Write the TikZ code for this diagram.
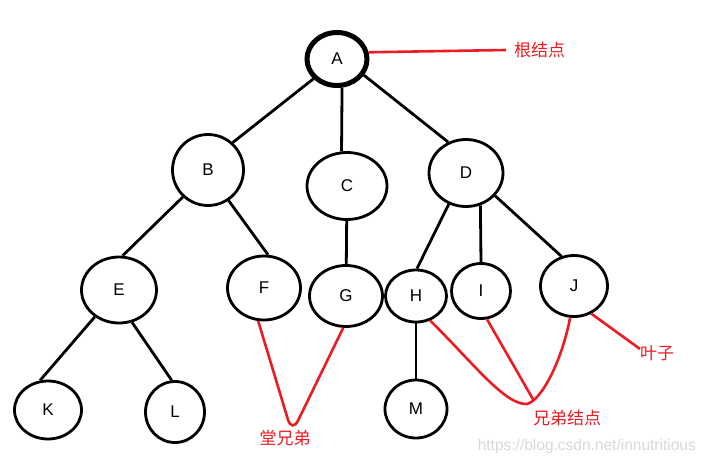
\documentclass[tikz,border=0pt]{standalone}
\usepackage{fontspec}
\setmainfont{Liberation Sans}
\newfontfamily\cjk{Noto Sans CJK SC}
\usetikzlibrary{shapes.geometric}
\definecolor{pred}{RGB}{237,28,36}
\begin{document}
\begin{tikzpicture}[x=1pt,y=-1pt,
  tn/.style={ellipse,draw,line width=2.8pt,inner sep=0pt,font=\fontsize{17}{17}\selectfont},
  el/.style={line width=2.8pt},
  rl/.style={draw=pred,line width=2.6pt},
  lbl/.style={text=pred,font=\cjk\fontsize{17}{17}\selectfont,inner sep=0pt}]
\useasboundingbox[fill=white] (0,0) rectangle (705,463);
% nodes
\node[tn,line width=5pt,minimum width=60pt,minimum height=53pt] (A) at (337,59) {A};
\node[tn,minimum width=71pt,minimum height=71pt] (B) at (208,170) {B};
\node[tn,minimum width=80pt,minimum height=67pt] (C) at (347,186) {C};
\node[tn,minimum width=74pt,minimum height=67pt] (D) at (466,173) {D};
\node[tn,minimum width=75pt,minimum height=66pt] (E) at (119,290) {E};
\node[tn,minimum width=73pt,minimum height=64pt] (F) at (264,288) {F};
\node[tn,minimum width=73pt,minimum height=61pt] (G) at (346,296) {G};
\node[tn,minimum width=61pt,minimum height=52pt] (H) at (416,296) {H};
\node[tn,minimum width=59pt,minimum height=55pt] (I) at (481,291) {I};
\node[tn,minimum width=67pt,minimum height=61pt] (J) at (574,286) {J};
\node[tn,minimum width=67pt,minimum height=58pt] (K) at (48,410) {K};
\node[tn,minimum width=59pt,minimum height=61pt] (L) at (175,412) {L};
\node[tn,minimum width=62pt,minimum height=58pt] (M) at (416,409) {M};
% tree edges
\draw[el] (A.-140) -- (B.48);
\draw[el] (A.-80) -- (C.99);
\draw[el] (A.-31) -- (D.120);
\draw[el] (B.-133) -- (E.84);
\draw[el] (B.-56) -- (F.83);
\draw[el] (C) -- (G);
\draw[el] (D.-119) -- (H.88);
\draw[el] (D.-66) -- (I.north);
\draw[el] (D.-38) -- (J.113);
\draw[el] (E.-132) -- (K.105);
\draw[el] (E.-68) -- (L.96);
\draw[el] (H) -- (M);
% labels
\node[lbl,anchor=west] (rootl) at (514,50) {根结点};
\node[lbl] (cousin) at (285,438) {堂兄弟};
\node[lbl] (sibl) at (567,418) {兄弟结点};
\node[lbl,anchor=west] (leaf) at (640,353) {叶子};
\node[text=black!15,font=\fontsize{15.5}{15.5}\selectfont,anchor=east,inner sep=0pt] (wm) at (696,446) {https://blog.csdn.net/innutritious};
% red annotations
\draw[rl] (A.12) -- ([xshift=-8pt]rootl.west);
\draw[rl,rounded corners=14pt] (F.-100) -- (292,433) -- (G.-95);
\coordinate (ibot) at (534,401);
\draw[rl] (H.-60) .. controls (475,365) and (505,405) .. (527,404)
          .. controls (542,400) and (562,360) .. (J.-97);
\draw[rl] (I.-78) -- (ibot);
\draw[rl] (J.-58) -- ([yshift=4pt]leaf.west);
\end{tikzpicture}
\end{document}
